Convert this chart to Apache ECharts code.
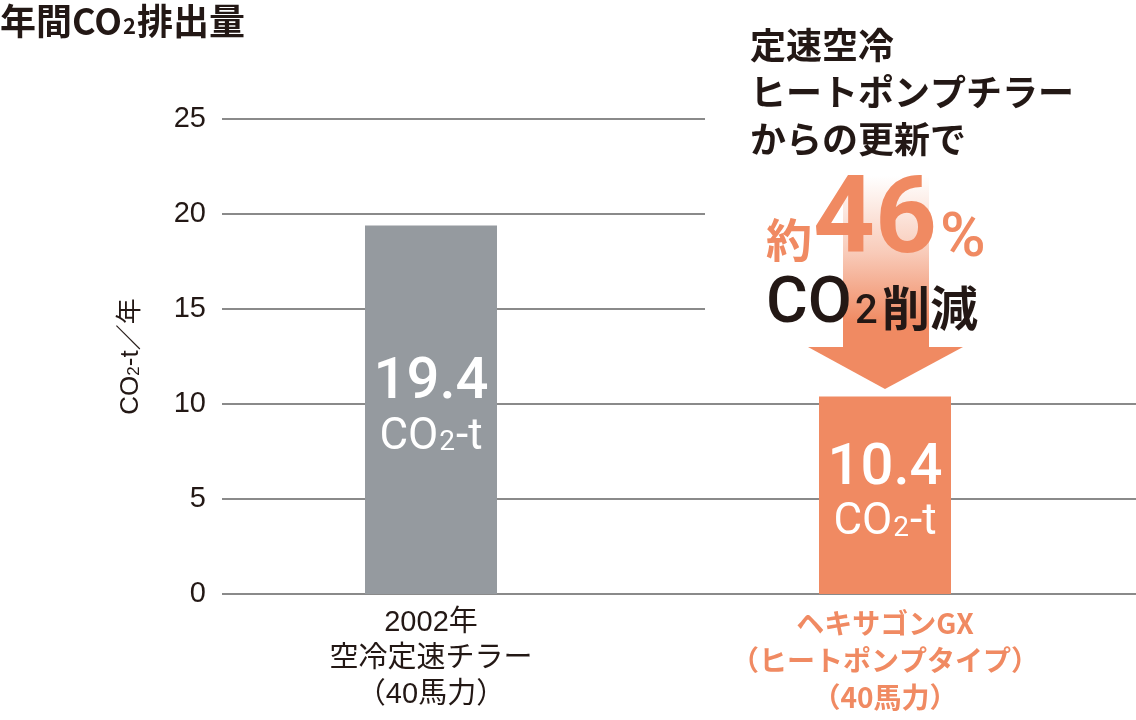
<!DOCTYPE html>
<html><head><meta charset="utf-8">
<script src="https://cdn.jsdelivr.net/npm/echarts@6/dist/echarts.min.js"></script>
<style>html,body{margin:0;padding:0;background:#fff}#c{width:1136px;height:720px}</style>
</head><body><div id="c"></div>
<script>
// ---- data ----
const categories = ['2002年\n空冷定速チラー\n（40馬力）', 'ヘキサゴンGX\n（ヒートポンプタイプ）\n（40馬力）'];
const values = [19.4, 10.4];
const yMin = 0, yMax = 25, yInterval = 5;
const noteLines = ['定速空冷', 'ヒートポンプチラー', 'からの更新で'];
const reduction = '46';

// ---- styles ----
const INK = '#231815';
const GRAY = '#959a9f';
const ORANGE = '#f08a62';
const GRID = '#8a8a8a';
const LAT = "'Liberation Sans','Noto Sans CJK JP',sans-serif";
const CJK = "'Noto Sans CJK JP',sans-serif";
const NUM = "Roboto,'Liberation Sans',sans-serif";

const chart = echarts.init(document.getElementById('c'), null, {renderer: 'canvas'});

const barColors = [GRAY, ORANGE];
const option = {
  backgroundColor: '#fff',
  animation: false,
  grid: [
    {left: 222, right: 0, top: 119, bottom: 126},
    {left: 204, right: 24, top: 119, bottom: 126}
  ],
  xAxis: [
    {gridIndex: 0, type: 'value', min: 0, max: 1, show: false},
    {gridIndex: 1, type: 'category', data: categories.map((c, i) => i === 0 ? {
        value: c,
        textStyle: {color: INK, fontFamily: LAT, fontSize: 29, lineHeight: 36}
      } : {
        value: c,
        textStyle: {color: ORANGE, fontFamily: CJK, fontWeight: 'bold', fontSize: 28, lineHeight: 37}
      }),
      axisLine: {show: false}, axisTick: {show: false},
      axisLabel: {margin: 11, interval: 0}
    }
  ],
  yAxis: [
    {gridIndex: 0, type: 'value', min: yMin, max: yMax, interval: yInterval,
      axisLine: {show: false}, axisTick: {show: false},
      axisLabel: {color: INK, fontFamily: LAT, fontSize: 29, margin: 16},
      splitLine: {show: true, lineStyle: {color: GRID, width: 2}},
      name: '{a|CO}{s|2}{a|-t／年}',
      nameLocation: 'middle', nameRotate: 90, nameGap: 78,
      nameTextStyle: {rich: {
        a: {fontFamily: LAT, fontSize: 26, color: INK},
        s: {fontFamily: LAT, fontSize: 17, color: INK, padding: [6, 0, 0, 0]}
      }}
    },
    {gridIndex: 1, type: 'value', min: yMin, max: yMax, interval: yInterval, show: false,
      splitLine: {show: false}}
  ],
  series: [{
    type: 'bar', xAxisIndex: 1, yAxisIndex: 1, barWidth: 132, z: 2,
    data: values.map((v, i) => ({value: v, itemStyle: {color: barColors[i]}})),
    label: {
      show: true, position: 'inside',
      formatter: '{v|{c}}\n{u|CO}{s|2}{u|-t}',
      rich: {
        v: {fontFamily: NUM, fontWeight: 500, fontSize: 58, color: '#fff', lineHeight: 56},
        u: {fontFamily: NUM, fontSize: 44, color: '#fff', lineHeight: 52},
        s: {fontFamily: NUM, fontSize: 28, color: '#fff', padding: [11, 1, 0, 1]}
      }
    }
  }],
  graphic: [
    // title
    {type: 'text', x: 0, y: 21, z: 10, style: {
      text: '{a|年間CO}{s|2}{a|排出量}', verticalAlign: 'middle', align: 'left',
      rich: {
        a: {fontFamily: CJK, fontWeight: 'bold', fontSize: 36, fill: INK},
        s: {fontFamily: CJK, fontWeight: 'bold', fontSize: 22, fill: INK, padding: [10, 1, 0, 1]}
      }
    }},
    // white panel behind annotation
    {type: 'rect', z: 3, shape: {x: 705, y: 0, width: 431, height: 360}, style: {fill: '#fff'}},
    // arrow shaft
    {type: 'rect', z: 4, shape: {x: 843, y: 176, width: 86, height: 172}, style: {
      fill: {type: 'linear', x: 0, y: 0, x2: 0, y2: 1, colorStops: [
        {offset: 0, color: 'rgba(240,138,98,0)'},
        {offset: 0.45, color: 'rgba(240,138,98,0.45)'},
        {offset: 0.85, color: 'rgba(240,138,98,1)'},
        {offset: 1, color: 'rgba(240,138,98,1)'}
      ]}
    }},
    // arrow head
    {type: 'polygon', z: 4, shape: {points: [[808, 347], [963, 347], [885, 389]]}, style: {fill: ORANGE}},
    // note text
    {type: 'text', x: 750, y: 22, z: 6, style: {
      text: noteLines.join('\n'), fontFamily: CJK, fontWeight: 'bold', fontSize: 36,
      lineHeight: 47, fill: INK, align: 'left', verticalAlign: 'top'
    }},
    {type: 'text', x: 766, y: 240, z: 6, style: {
      text: '約', fontFamily: CJK, fontWeight: 'bold', fontSize: 46, fill: ORANGE, verticalAlign: 'middle'
    }},
    {type: 'text', x: 813, y: 262 - 0.34 * 108, z: 6, style: {
      text: reduction, fontFamily: NUM, fontWeight: 'bold', fontSize: 108, fill: ORANGE, verticalAlign: 'middle'
    }},
    {type: 'text', x: 940, y: 262 - 0.34 * 62, z: 6, style: {
      text: '%', fontFamily: NUM, fontWeight: 500, fontSize: 62, fill: ORANGE, verticalAlign: 'middle'
    }},
    {type: 'text', x: 766, y: 328 - 0.34 * 64, z: 6, style: {
      text: 'CO', fontFamily: NUM, fontWeight: 500, fontSize: 64, fill: INK, verticalAlign: 'middle'
    }},
    {type: 'text', x: 855, y: 327 - 0.34 * 40, z: 6, style: {
      text: '2', fontFamily: NUM, fontWeight: 500, fontSize: 40, fill: INK, verticalAlign: 'middle'
    }},
    {type: 'text', x: 882, y: 308, z: 6, style: {
      text: '削減', fontFamily: CJK, fontWeight: 'bold', fontSize: 48, fill: INK, verticalAlign: 'middle'
    }}
  ]
};
chart.setOption(option);
</script>
</body></html>
